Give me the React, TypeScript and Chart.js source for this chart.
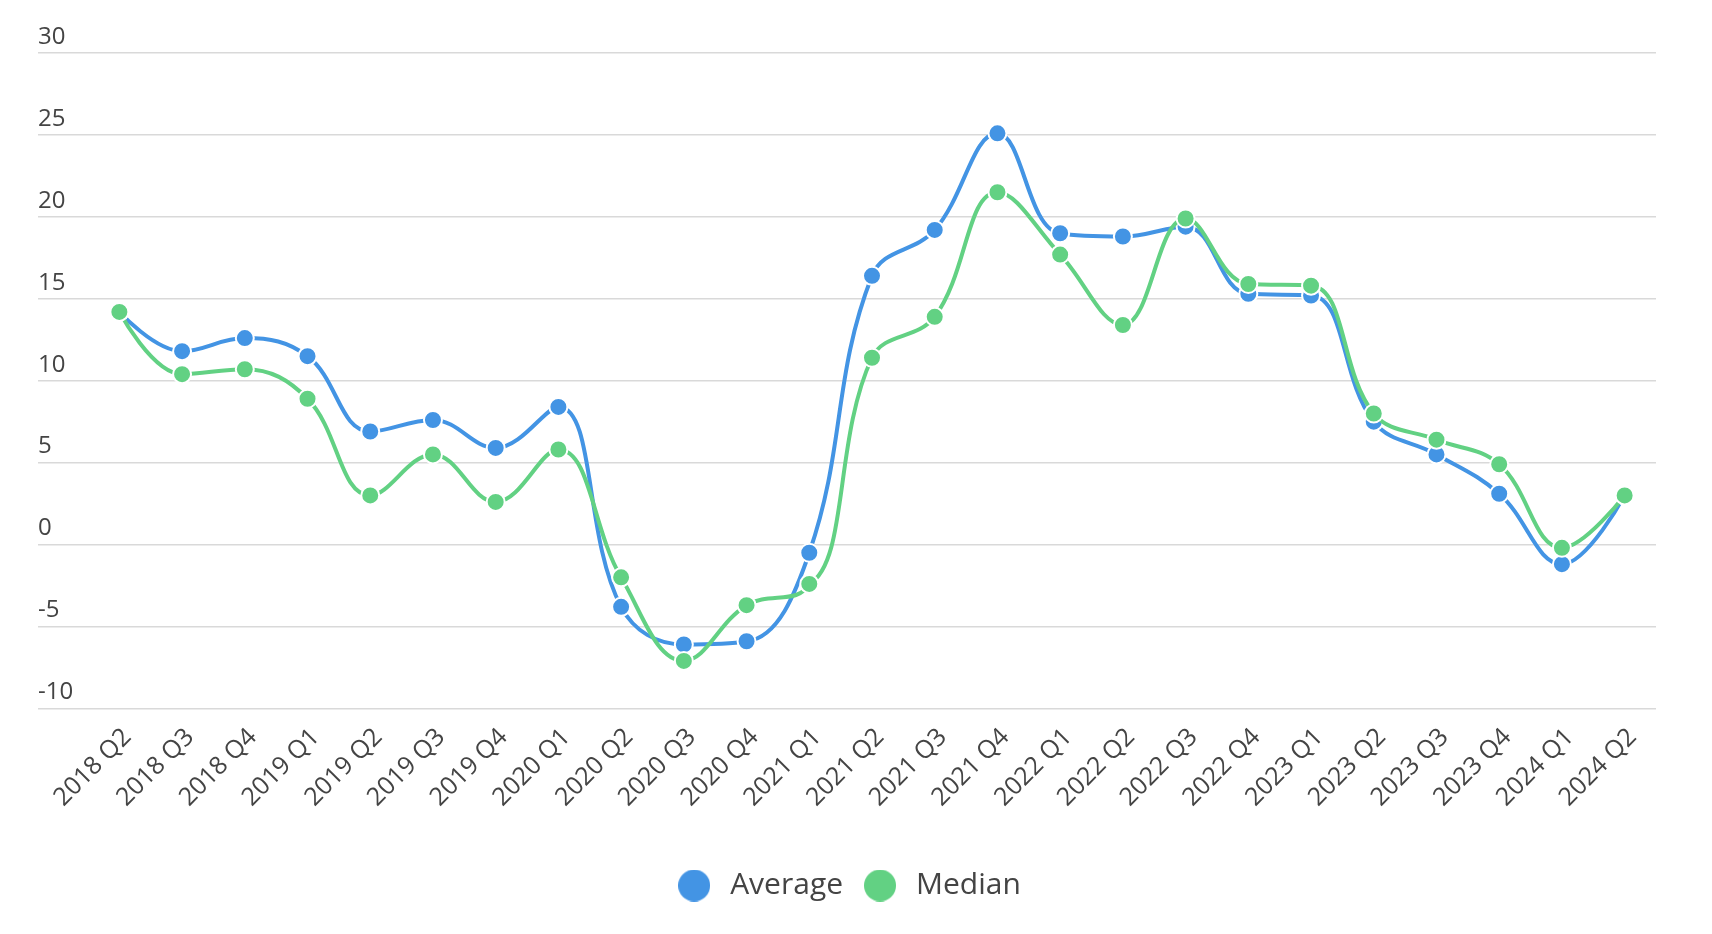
import { useEffect, useRef } from "react"
import { Chart, registerables, type Plugin } from "chart.js"

Chart.register(...registerables)

// quarters on the x axis
const quarters = [
  "2018 Q2", "2018 Q3", "2018 Q4",
  "2019 Q1", "2019 Q2", "2019 Q3", "2019 Q4",
  "2020 Q1", "2020 Q2", "2020 Q3", "2020 Q4",
  "2021 Q1", "2021 Q2", "2021 Q3", "2021 Q4",
  "2022 Q1", "2022 Q2", "2022 Q3", "2022 Q4",
  "2023 Q1", "2023 Q2", "2023 Q3", "2023 Q4",
  "2024 Q1", "2024 Q2",
]

const averageValues = [
  14.2, 11.8, 12.6,
  11.5, 6.9, 7.6, 5.9,
  8.4, -3.8, -6.1, -5.9,
  -0.5, 16.4, 19.2, 25.1,
  19.0, 18.8, 19.4, 15.3,
  15.2, 7.5, 5.5, 3.1,
  -1.2, 3.0,
]

const medianValues = [
  14.2, 10.4, 10.7,
  8.9, 3.0, 5.5, 2.6,
  5.8, -2.0, -7.1, -3.7,
  -2.4, 11.4, 13.9, 21.5,
  17.7, 13.4, 19.9, 15.9,
  15.8, 8.0, 6.4, 4.9,
  -0.2, 3.0,
]

// y axis range
const yMin = -10
const yMax = 30
const yStep = 5

const BLUE = "#4394e4"
const GREEN = "#62d183"
const TEXT = "#444444"
const GRID = "#d9d9d9"

// 범례용 동그라미 이미지
function makeDot(color: string) {
  const c = document.createElement("canvas")
  c.width = 32
  c.height = 32
  const g = c.getContext("2d")
  if (g) {
    g.fillStyle = color
    g.beginPath()
    g.arc(16, 16, 16, 0, Math.PI * 2)
    g.fill()
  }
  return c
}

// 곡선이 점을 넘어 튀어나가지 않도록 제어점 보정 (spline 스타일)
const clampCurves: Plugin<"line"> = {
  id: "clampCurves",
  beforeDatasetsDraw(chart) {
    chart.getSortedVisibleDatasetMetas().forEach((meta) => {
      const line: any = meta.dataset
      if (!line) return
      line.updateControlPoints(chart.chartArea, meta.iScale?.axis ?? "x")
      const pts: any[] = meta.data as any[]
      const n = pts.length
      if (n < 2) return
      for (let i = 1; i < n - 1; i++) {
        const p = pts[i]
        const prev = pts[i - 1]
        const next = pts[i + 1]
        let left = p.cp1y
        let right = p.cp2y
        if (left > prev.y && left > p.y) {
          left = Math.max(prev.y, p.y)
          right = 2 * p.y - left
        } else if (left < prev.y && left < p.y) {
          left = Math.min(prev.y, p.y)
          right = 2 * p.y - left
        }
        if (right > next.y && right > p.y) {
          right = Math.max(next.y, p.y)
          left = 2 * p.y - right
        } else if (right < next.y && right < p.y) {
          right = Math.min(next.y, p.y)
          left = 2 * p.y - right
        }
        p.cp1y = left
        p.cp2y = right
      }
      pts[0].cp2x = pts[0].x
      pts[0].cp2y = pts[0].y
      pts[n - 1].cp1x = pts[n - 1].x
      pts[n - 1].cp1y = pts[n - 1].y
    })
  },
}

export default function App() {
  const chartRef = useRef<HTMLCanvasElement>(null)
  const chartInstance = useRef<Chart | null>(null)

  useEffect(() => {
    if (!chartRef.current) return
    if (chartInstance.current) chartInstance.current.destroy()

    Chart.defaults.font.family = "'Open Sans', sans-serif"
    const dots = [makeDot(BLUE), makeDot(GREEN)]

    const ctx = chartRef.current.getContext("2d")
    if (!ctx) return

    const seriesStyle = {
      pointBorderColor: "#ffffff",
      pointBorderWidth: 2,
      pointRadius: 9,
      borderWidth: 4,
      tension: 0.4,
    }

    chartInstance.current = new Chart(ctx, {
      type: "line",
      data: {
        labels: quarters,
        datasets: [
          {
            label: "Average",
            data: averageValues,
            borderColor: BLUE,
            backgroundColor: BLUE,
            pointBackgroundColor: BLUE,
            ...seriesStyle,
            order: 1,
          },
          {
            label: "Median",
            data: medianValues,
            borderColor: GREEN,
            backgroundColor: GREEN,
            pointBackgroundColor: GREEN,
            ...seriesStyle,
            order: 0,
          },
        ],
      },
      plugins: [clampCurves],
      options: {
        animation: false,
        responsive: true,
        maintainAspectRatio: false,
        layout: {
          padding: { top: 53, left: 38, right: 56, bottom: 23.5 },
        },
        plugins: {
          tooltip: { enabled: false },
          legend: {
            position: "bottom",
            labels: {
              usePointStyle: true,
              pointStyleWidth: 42,
              boxHeight: 23,
              padding: 16,
              color: TEXT,
              font: { size: 30 },
              sort: (a, b) => (a.datasetIndex ?? 0) - (b.datasetIndex ?? 0),
              generateLabels: (chart) =>
                Chart.defaults.plugins.legend.labels.generateLabels(chart).map((item) => ({
                  ...item,
                  lineWidth: 0,
                  pointStyle: dots[item.datasetIndex ?? 0],
                })),
            },
          },
        },
        scales: {
          x: {
            offset: true,
            grid: { display: false },
            border: { display: false },
            ticks: {
              autoSkip: false,
              minRotation: 45,
              maxRotation: 45,
              color: TEXT,
              font: { size: 25 },
              padding: 6,
              labelOffset: 8,
            },
            afterFit: (scale) => {
              // 범례와의 간격 확보
              scale.height += 36
            },
          },
          y: {
            min: yMin,
            max: yMax,
            border: { display: false },
            grid: { color: GRID, lineWidth: 1.5, tickLength: 50 },
            ticks: {
              stepSize: yStep,
              color: TEXT,
              font: { size: 24 },
              crossAlign: "far",
              padding: 0,
              labelOffset: -16,
            },
            afterFit: (scale) => {
              scale.width = 50
            },
          },
        },
      },
    })

    return () => {
      if (chartInstance.current) {
        chartInstance.current.destroy()
        chartInstance.current = null
      }
    }
  }, [])

  return (
    <div style={{ position: "fixed", top: 0, left: 0, width: "1712px", height: "934px", background: "#ffffff" }}>
      <canvas ref={chartRef} />
    </div>
  )
}
